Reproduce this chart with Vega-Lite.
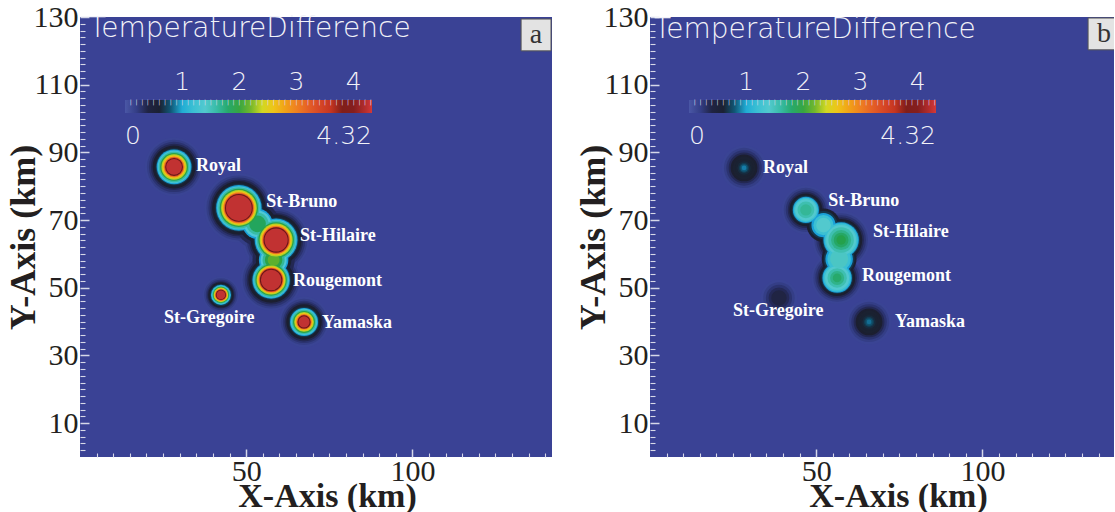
{
  "$schema": "https://vega.github.io/schema/vega-lite/v6.json",
  "background": "white",
  "padding": {"left": 5, "top": 2, "right": 0, "bottom": 0},
  "spacing": 98,
  "bounds": "flush",
  "config": {
    "view": {"stroke": null},
    "axis": {
      "domain": false,
      "grid": false,
      "tickColor": "#d6d8e8",
      "labelFont": "Liberation Serif",
      "labelFontSize": 30,
      "labelColor": "#231f20",
      "labelOverlap": false,
      "titleFont": "Liberation Serif",
      "titleFontWeight": "bold",
      "titleColor": "#231f20"
    },
    "axisX": {"labelPadding": 7, "titlePadding": -11, "titleFontSize": 34},
    "axisY": {"labelPadding": 11, "titleX": -46, "titleBaseline": "alphabetic", "titleFontSize": 36},
    "legend": {
      "orient": "none", "direction": "horizontal", "title": null, "padding": 0,
      "gradientLength": 247, "gradientThickness": 13, "gradientStrokeWidth": 0,
      "labelFont": "DejaVu Sans", "labelFontSize": 25, "labelFontWeight": 200, "labelColor": "#f2f2f8",
      "labelOverlap": false, "labelFlush": false, "legendY": 83
    }
  },
  "datasets": {
    "rings_a": [
      {"x": 28.3, "y": 85.7, "r": 8.8, "v": 0.13}, {"x": 28.3, "y": 85.7, "r": 8.1, "v": 0.2}, {"x": 28.3, "y": 85.7, "r": 7.5, "v": 0.28}, {"x": 28.3, "y": 85.7, "r": 6.9, "v": 0.36}, {"x": 28.3, "y": 85.7, "r": 6.4, "v": 0.45}, {"x": 28.3, "y": 85.7, "r": 5.9, "v": 0.58}, {"x": 28.3, "y": 85.7, "r": 5.5, "v": 0.72}, {"x": 28.3, "y": 85.7, "r": 5.2, "v": 0.9}, {"x": 28.3, "y": 85.7, "r": 4.89, "v": 1.25}, {"x": 28.3, "y": 85.7, "r": 4.55, "v": 1.6}, {"x": 28.3, "y": 85.7, "r": 4.16, "v": 1.95}, {"x": 28.3, "y": 85.7, "r": 3.77, "v": 2.35}, {"x": 28.3, "y": 85.7, "r": 3.43, "v": 2.6}, {"x": 28.3, "y": 85.7, "r": 3.12, "v": 2.95}, {"x": 28.3, "y": 85.7, "r": 2.86, "v": 3.35}, {"x": 28.3, "y": 85.7, "r": 2.65, "v": 3.85}, {"x": 28.3, "y": 85.7, "r": 2.35, "v": 4.25},
      {"x": 47.8, "y": 73.6, "r": 10.4, "v": 0.13}, {"x": 47.8, "y": 73.6, "r": 9.7, "v": 0.2}, {"x": 47.8, "y": 73.6, "r": 9.1, "v": 0.28}, {"x": 47.8, "y": 73.6, "r": 8.5, "v": 0.36}, {"x": 47.8, "y": 73.6, "r": 8.0, "v": 0.45}, {"x": 47.8, "y": 73.6, "r": 7.5, "v": 0.58}, {"x": 47.8, "y": 73.6, "r": 7.1, "v": 0.72}, {"x": 47.8, "y": 73.6, "r": 6.8, "v": 0.9}, {"x": 47.8, "y": 73.6, "r": 6.48, "v": 1.25}, {"x": 47.8, "y": 73.6, "r": 6.13, "v": 1.6}, {"x": 47.8, "y": 73.6, "r": 5.72, "v": 1.95}, {"x": 47.8, "y": 73.6, "r": 5.32, "v": 2.35}, {"x": 47.8, "y": 73.6, "r": 4.96, "v": 2.6}, {"x": 47.8, "y": 73.6, "r": 4.64, "v": 2.95}, {"x": 47.8, "y": 73.6, "r": 4.37, "v": 3.35}, {"x": 47.8, "y": 73.6, "r": 4.15, "v": 3.85}, {"x": 47.8, "y": 73.6, "r": 3.85, "v": 4.25},
      {"x": 59.0, "y": 64.1, "r": 10.0, "v": 0.13}, {"x": 59.0, "y": 64.1, "r": 9.3, "v": 0.2}, {"x": 59.0, "y": 64.1, "r": 8.7, "v": 0.28}, {"x": 59.0, "y": 64.1, "r": 8.1, "v": 0.36}, {"x": 59.0, "y": 64.1, "r": 7.6, "v": 0.45}, {"x": 59.0, "y": 64.1, "r": 7.1, "v": 0.58}, {"x": 59.0, "y": 64.1, "r": 6.7, "v": 0.72}, {"x": 59.0, "y": 64.1, "r": 6.4, "v": 0.9}, {"x": 59.0, "y": 64.1, "r": 6.08, "v": 1.25}, {"x": 59.0, "y": 64.1, "r": 5.73, "v": 1.6}, {"x": 59.0, "y": 64.1, "r": 5.32, "v": 1.95}, {"x": 59.0, "y": 64.1, "r": 4.92, "v": 2.35}, {"x": 59.0, "y": 64.1, "r": 4.56, "v": 2.6}, {"x": 59.0, "y": 64.1, "r": 4.24, "v": 2.95}, {"x": 59.0, "y": 64.1, "r": 3.97, "v": 3.35}, {"x": 59.0, "y": 64.1, "r": 3.75, "v": 3.85}, {"x": 59.0, "y": 64.1, "r": 3.45, "v": 4.25},
      {"x": 57.5, "y": 52.3, "r": 9.2, "v": 0.13}, {"x": 57.5, "y": 52.3, "r": 8.5, "v": 0.2}, {"x": 57.5, "y": 52.3, "r": 7.9, "v": 0.28}, {"x": 57.5, "y": 52.3, "r": 7.3, "v": 0.36}, {"x": 57.5, "y": 52.3, "r": 6.8, "v": 0.45}, {"x": 57.5, "y": 52.3, "r": 6.3, "v": 0.58}, {"x": 57.5, "y": 52.3, "r": 5.9, "v": 0.72}, {"x": 57.5, "y": 52.3, "r": 5.6, "v": 0.9}, {"x": 57.5, "y": 52.3, "r": 5.32, "v": 1.25}, {"x": 57.5, "y": 52.3, "r": 5.03, "v": 1.6}, {"x": 57.5, "y": 52.3, "r": 4.68, "v": 1.95}, {"x": 57.5, "y": 52.3, "r": 4.34, "v": 2.35}, {"x": 57.5, "y": 52.3, "r": 4.04, "v": 2.6}, {"x": 57.5, "y": 52.3, "r": 3.76, "v": 2.95}, {"x": 57.5, "y": 52.3, "r": 3.53, "v": 3.35}, {"x": 57.5, "y": 52.3, "r": 3.35, "v": 3.85}, {"x": 57.5, "y": 52.3, "r": 3.05, "v": 4.25},
      {"x": 42.4, "y": 47.9, "r": 5.5, "v": 0.13}, {"x": 42.4, "y": 47.9, "r": 5.0, "v": 0.2}, {"x": 42.4, "y": 47.9, "r": 4.5, "v": 0.28}, {"x": 42.4, "y": 47.9, "r": 4.1, "v": 0.36}, {"x": 42.4, "y": 47.9, "r": 3.8, "v": 0.45}, {"x": 42.4, "y": 47.9, "r": 3.5, "v": 0.58}, {"x": 42.4, "y": 47.9, "r": 3.25, "v": 0.72}, {"x": 42.4, "y": 47.9, "r": 3.0, "v": 0.9}, {"x": 42.4, "y": 47.9, "r": 2.82, "v": 1.25}, {"x": 42.4, "y": 47.9, "r": 2.62, "v": 1.6}, {"x": 42.4, "y": 47.9, "r": 2.4, "v": 1.95}, {"x": 42.4, "y": 47.9, "r": 2.17, "v": 2.35}, {"x": 42.4, "y": 47.9, "r": 1.98, "v": 2.6}, {"x": 42.4, "y": 47.9, "r": 1.8, "v": 2.95}, {"x": 42.4, "y": 47.9, "r": 1.65, "v": 3.35}, {"x": 42.4, "y": 47.9, "r": 1.52, "v": 3.85}, {"x": 42.4, "y": 47.9, "r": 1.3, "v": 4.25},
      {"x": 67.4, "y": 39.9, "r": 7.6, "v": 0.13}, {"x": 67.4, "y": 39.9, "r": 6.9, "v": 0.2}, {"x": 67.4, "y": 39.9, "r": 6.3, "v": 0.28}, {"x": 67.4, "y": 39.9, "r": 5.8, "v": 0.36}, {"x": 67.4, "y": 39.9, "r": 5.3, "v": 0.45}, {"x": 67.4, "y": 39.9, "r": 4.9, "v": 0.58}, {"x": 67.4, "y": 39.9, "r": 4.5, "v": 0.72}, {"x": 67.4, "y": 39.9, "r": 4.2, "v": 0.9}, {"x": 67.4, "y": 39.9, "r": 3.92, "v": 1.25}, {"x": 67.4, "y": 39.9, "r": 3.63, "v": 1.6}, {"x": 67.4, "y": 39.9, "r": 3.28, "v": 1.95}, {"x": 67.4, "y": 39.9, "r": 2.94, "v": 2.35}, {"x": 67.4, "y": 39.9, "r": 2.64, "v": 2.6}, {"x": 67.4, "y": 39.9, "r": 2.36, "v": 2.95}, {"x": 67.4, "y": 39.9, "r": 2.13, "v": 3.35}, {"x": 67.4, "y": 39.9, "r": 1.95, "v": 3.85}, {"x": 67.4, "y": 39.9, "r": 1.65, "v": 4.25},
      {"x": 53.4, "y": 68.9, "r": 7.5, "v": 0.2}, {"x": 53.4, "y": 68.9, "r": 6.5, "v": 0.36}, {"x": 53.4, "y": 68.9, "r": 5.5, "v": 0.58}, {"x": 53.4, "y": 68.9, "r": 4.5, "v": 0.9}, {"x": 53.4, "y": 68.9, "r": 4.0, "v": 1.3}, {"x": 53.4, "y": 68.9, "r": 3.3, "v": 1.6}, {"x": 53.4, "y": 68.9, "r": 2.5, "v": 1.85},
      {"x": 58.25, "y": 58.2, "r": 7.3, "v": 0.2}, {"x": 58.25, "y": 58.2, "r": 6.3, "v": 0.36}, {"x": 58.25, "y": 58.2, "r": 5.3, "v": 0.58}, {"x": 58.25, "y": 58.2, "r": 4.4, "v": 0.9}, {"x": 58.25, "y": 58.2, "r": 3.9, "v": 1.3}, {"x": 58.25, "y": 58.2, "r": 3.3, "v": 1.65}, {"x": 58.25, "y": 58.2, "r": 2.6, "v": 1.95}, {"x": 58.25, "y": 58.2, "r": 1.8, "v": 2.15}
    ],
    "rings_b": [
      {"x": 28.3, "y": 85.4, "r": 6.8, "v": 0.13}, {"x": 28.3, "y": 85.4, "r": 6.0, "v": 0.2}, {"x": 28.3, "y": 85.4, "r": 5.3, "v": 0.28}, {"x": 28.3, "y": 85.4, "r": 4.6, "v": 0.36}, {"x": 28.3, "y": 85.4, "r": 4.0, "v": 0.45}, {"x": 28.3, "y": 85.4, "r": 3.4, "v": 0.55}, {"x": 28.3, "y": 85.4, "r": 2.7, "v": 0.62}, {"x": 28.3, "y": 85.4, "r": 2.0, "v": 0.68}, {"x": 28.3, "y": 85.4, "r": 1.5, "v": 0.74}, {"x": 28.3, "y": 85.4, "r": 1.1, "v": 0.8}, {"x": 28.3, "y": 85.4, "r": 0.7, "v": 0.85},
      {"x": 46.9, "y": 73.0, "r": 7.3, "v": 0.13}, {"x": 46.9, "y": 73.0, "r": 6.6, "v": 0.2}, {"x": 46.9, "y": 73.0, "r": 6.0, "v": 0.28}, {"x": 46.9, "y": 73.0, "r": 5.4, "v": 0.36}, {"x": 46.9, "y": 73.0, "r": 4.9, "v": 0.45}, {"x": 46.9, "y": 73.0, "r": 4.5, "v": 0.58}, {"x": 46.9, "y": 73.0, "r": 4.2, "v": 0.72}, {"x": 46.9, "y": 73.0, "r": 3.9, "v": 0.9}, {"x": 46.9, "y": 73.0, "r": 3.6, "v": 1.2}, {"x": 46.9, "y": 73.0, "r": 3.2, "v": 1.4}, {"x": 46.9, "y": 73.0, "r": 2.5, "v": 1.55}, {"x": 46.9, "y": 73.0, "r": 1.7, "v": 1.65},
      {"x": 57.5, "y": 64.1, "r": 8.7, "v": 0.13}, {"x": 57.5, "y": 64.1, "r": 8.0, "v": 0.2}, {"x": 57.5, "y": 64.1, "r": 7.4, "v": 0.28}, {"x": 57.5, "y": 64.1, "r": 6.8, "v": 0.36}, {"x": 57.5, "y": 64.1, "r": 6.3, "v": 0.45}, {"x": 57.5, "y": 64.1, "r": 5.9, "v": 0.58}, {"x": 57.5, "y": 64.1, "r": 5.6, "v": 0.72}, {"x": 57.5, "y": 64.1, "r": 5.3, "v": 0.9}, {"x": 57.5, "y": 64.1, "r": 5.0, "v": 1.2}, {"x": 57.5, "y": 64.1, "r": 4.5, "v": 1.4}, {"x": 57.5, "y": 64.1, "r": 3.8, "v": 1.55}, {"x": 57.5, "y": 64.1, "r": 3.0, "v": 1.7}, {"x": 57.5, "y": 64.1, "r": 2.2, "v": 1.82}, {"x": 57.5, "y": 64.1, "r": 1.4, "v": 1.92},
      {"x": 56.3, "y": 52.9, "r": 7.8, "v": 0.13}, {"x": 56.3, "y": 52.9, "r": 7.1, "v": 0.2}, {"x": 56.3, "y": 52.9, "r": 6.5, "v": 0.28}, {"x": 56.3, "y": 52.9, "r": 5.9, "v": 0.36}, {"x": 56.3, "y": 52.9, "r": 5.4, "v": 0.45}, {"x": 56.3, "y": 52.9, "r": 5.0, "v": 0.58}, {"x": 56.3, "y": 52.9, "r": 4.7, "v": 0.72}, {"x": 56.3, "y": 52.9, "r": 4.4, "v": 0.9}, {"x": 56.3, "y": 52.9, "r": 4.1, "v": 1.2}, {"x": 56.3, "y": 52.9, "r": 3.6, "v": 1.4}, {"x": 56.3, "y": 52.9, "r": 2.9, "v": 1.55}, {"x": 56.3, "y": 52.9, "r": 2.1, "v": 1.7}, {"x": 56.3, "y": 52.9, "r": 1.3, "v": 1.8},
      {"x": 38.8, "y": 47.0, "r": 5.5, "v": 0.13}, {"x": 38.8, "y": 47.0, "r": 4.7, "v": 0.2}, {"x": 38.8, "y": 47.0, "r": 3.9, "v": 0.28}, {"x": 38.8, "y": 47.0, "r": 3.1, "v": 0.35}, {"x": 38.8, "y": 47.0, "r": 2.3, "v": 0.4},
      {"x": 65.9, "y": 39.9, "r": 6.8, "v": 0.13}, {"x": 65.9, "y": 39.9, "r": 6.0, "v": 0.2}, {"x": 65.9, "y": 39.9, "r": 5.3, "v": 0.28}, {"x": 65.9, "y": 39.9, "r": 4.6, "v": 0.36}, {"x": 65.9, "y": 39.9, "r": 4.0, "v": 0.45}, {"x": 65.9, "y": 39.9, "r": 3.4, "v": 0.55}, {"x": 65.9, "y": 39.9, "r": 2.7, "v": 0.62}, {"x": 65.9, "y": 39.9, "r": 2.0, "v": 0.68}, {"x": 65.9, "y": 39.9, "r": 1.5, "v": 0.74}, {"x": 65.9, "y": 39.9, "r": 1.1, "v": 0.79}, {"x": 65.9, "y": 39.9, "r": 0.7, "v": 0.83},
      {"x": 52.2, "y": 68.5, "r": 5.0, "v": 0.45}, {"x": 52.2, "y": 68.5, "r": 4.2, "v": 0.72}, {"x": 52.2, "y": 68.5, "r": 3.6, "v": 0.9}, {"x": 52.2, "y": 68.5, "r": 3.0, "v": 1.2}, {"x": 52.2, "y": 68.5, "r": 2.2, "v": 1.4},
      {"x": 56.9, "y": 58.5, "r": 5.2, "v": 0.45}, {"x": 56.9, "y": 58.5, "r": 4.6, "v": 0.72}, {"x": 56.9, "y": 58.5, "r": 4.1, "v": 0.9}, {"x": 56.9, "y": 58.5, "r": 3.5, "v": 1.2}, {"x": 56.9, "y": 58.5, "r": 2.7, "v": 1.45}
    ],
    "scale_ends": [{"x": 1, "y": 1, "t": 0}, {"x": 1, "y": 1, "t": 4.32}],
    "names_a": [
      {"x": 34.9, "y": 86.0, "text": "Royal"},
      {"x": 56.0, "y": 75.3, "text": "St-Bruno"},
      {"x": 66.2, "y": 65.3, "text": "St-Hilaire"},
      {"x": 64.1, "y": 52.0, "text": "Rougemont"},
      {"x": 25.3, "y": 41.1, "text": "St-Gregoire"},
      {"x": 72.8, "y": 39.6, "text": "Yamaska"}
    ],
    "names_b": [
      {"x": 34.0, "y": 85.4, "text": "Royal"},
      {"x": 53.6, "y": 75.6, "text": "St-Bruno"},
      {"x": 67.1, "y": 66.5, "text": "St-Hilaire"},
      {"x": 63.8, "y": 53.5, "text": "Rougemont"},
      {"x": 25.0, "y": 43.1, "text": "St-Gregoire"},
      {"x": 73.7, "y": 39.9, "text": "Yamaska"}
    ],
    "heading_a": [{"x": 2.7, "y": 124.2, "text": "TemperatureDifference"}],
    "heading_b": [{"x": 1.2, "y": 123.9, "text": "TemperatureDifference"}],
    "box_a": [{"x": 132.7, "x2": 141.7, "y": 129.4, "y2": 120.0}],
    "box_b": [{"x": 131.8, "x2": 141.5, "y": 129.7, "y2": 120.3}],
    "letter_a": [{"x": 137.2, "y": 124.7, "text": "a"}],
    "letter_b": [{"x": 136.6, "y": 125.0, "text": "b"}]
  },
  "resolve": {
    "scale": {"x": "independent", "y": "independent", "color": "independent", "size": "independent"},
    "legend": {"color": "independent"}
  },
  "hconcat": [
    {
      "width": 472,
      "height": 440,
      "view": {"fill": "#3a4295", "stroke": null},
      "resolve": {"scale": {"color": "independent"}, "legend": {"color": "independent"}},
      "encoding": {
        "x": {
          "field": "x", "type": "quantitative",
          "scale": {"domain": [0, 142], "nice": false, "zero": false},
          "axis": {
            "title": "X-Axis (km)",
            "values": [5, 10, 15, 20, 25, 30, 35, 40, 45, 50, 55, 60, 65, 70, 75, 80, 85, 90, 95, 100, 105, 110, 115, 120, 125, 130, 135, 140],
            "labelExpr": "datum.value % 50 === 0 ? datum.label : ''",
            "tickSize": {"condition": {"test": "datum.value % 50 === 0", "value": -8}, "value": -4},
            "tickWidth": {"condition": {"test": "datum.value % 50 === 0", "value": 1.5}, "value": 1.1},
            "titleX": 247
          }
        },
        "y": {
          "field": "y", "type": "quantitative",
          "scale": {"domain": [0, 130], "nice": false, "zero": false},
          "axis": {
            "title": "Y-Axis (km)",
            "values": [2, 4, 6, 8, 10, 12, 14, 16, 18, 20, 22, 24, 26, 28, 30, 32, 34, 36, 38, 40, 42, 44, 46, 48, 50, 52, 54, 56, 58, 60, 62, 64, 66, 68, 70, 72, 74, 76, 78, 80, 82, 84, 86, 88, 90, 92, 94, 96, 98, 100, 102, 104, 106, 108, 110, 112, 114, 116, 118, 120, 122, 124, 126, 128, 130],
            "labelExpr": "(datum.value - 10) % 20 === 0 ? datum.label : ''",
            "tickSize": {"condition": {"test": "(datum.value - 10) % 20 === 0", "value": -9}, "value": -5},
            "tickWidth": {"condition": {"test": "(datum.value - 10) % 20 === 0", "value": 1.5}, "value": 1.1}
          }
        }
      },
      "layer": [
        {
          "data": {"name": "rings_a"},
          "mark": {"type": "point", "filled": true, "opacity": 1, "strokeWidth": 0, "clip": true},
          "encoding": {
            "size": {"field": "r", "type": "quantitative", "scale": {"type": "pow", "exponent": 2, "domain": [0, 20], "range": [0, 17956]}, "legend": null},
            "color": {
              "field": "v", "type": "quantitative",
              "scale": {
                "domain": [0, 0.13, 0.2, 0.28, 0.36, 0.45, 0.65, 0.78, 0.9, 1.1, 1.35, 1.6, 1.9, 2.15, 2.45, 2.7, 3.0, 3.3, 3.65, 3.85, 4.05, 4.32],
                "range": ["#4a57a6", "#3a4494", "#343e86", "#2b3370", "#232852", "#1c1f30", "#1a2232", "#0e4a64", "#1aa0d8", "#28b8d0", "#58ccd8", "#38bca6", "#1fa04e", "#5cb02e", "#e8e020", "#f2b212", "#ef8020", "#e05028", "#c03020", "#6a1818", "#8c2020", "#d43838"],
                "interpolate": "rgb"
              },
              "legend": {"legendX": 45, "values": [1, 2, 3, 4], "format": "d", "labelOffset": -43}
            },
            "order": {"field": "v", "type": "quantitative", "sort": "ascending"}
          }
        },
        {
          "data": {"name": "scale_ends"},
          "mark": {"type": "point", "filled": true, "opacity": 0},
          "encoding": {
            "color": {
              "field": "t", "type": "quantitative",
              "scale": {
                "domain": [0, 0.13, 0.2, 0.28, 0.36, 0.45, 0.65, 0.78, 0.9, 1.1, 1.35, 1.6, 1.9, 2.15, 2.45, 2.7, 3.0, 3.3, 3.65, 3.85, 4.05, 4.32],
                "range": ["#4a57a6", "#3a4494", "#343e86", "#2b3370", "#232852", "#1c1f30", "#1a2232", "#0e4a64", "#1aa0d8", "#28b8d0", "#58ccd8", "#38bca6", "#1fa04e", "#5cb02e", "#e8e020", "#f2b212", "#ef8020", "#e05028", "#c03020", "#6a1818", "#8c2020", "#d43838"],
                "interpolate": "rgb"
              },
              "legend": {"legendX": 45, "values": [0], "format": "d", "labelOffset": 11, "labelAlign": "center"}
            }
          }
        },
        {
          "data": {"name": "scale_ends"},
          "mark": {"type": "point", "filled": true, "opacity": 0},
          "encoding": {
            "color": {
              "field": "t", "type": "quantitative",
              "scale": {
                "domain": [0, 0.13, 0.2, 0.28, 0.36, 0.45, 0.65, 0.78, 0.9, 1.1, 1.35, 1.6, 1.9, 2.15, 2.45, 2.7, 3.0, 3.3, 3.65, 3.85, 4.05, 4.32],
                "range": ["#4a57a6", "#3a4494", "#343e86", "#2b3370", "#232852", "#1c1f30", "#1a2232", "#0e4a64", "#1aa0d8", "#28b8d0", "#58ccd8", "#38bca6", "#1fa04e", "#5cb02e", "#e8e020", "#f2b212", "#ef8020", "#e05028", "#c03020", "#6a1818", "#8c2020", "#d43838"],
                "interpolate": "rgb"
              },
              "legend": {"legendX": 45, "values": [4.32], "format": ".2f", "labelOffset": 11, "labelAlign": "right"}
            }
          }
        },
        {
          "data": {"name": "scale_ends"},
          "mark": {"type": "point", "filled": true, "opacity": 0},
          "encoding": {
            "color": {
              "field": "t", "type": "quantitative",
              "scale": {
                "domain": [0, 0.13, 0.2, 0.28, 0.36, 0.45, 0.65, 0.78, 0.9, 1.1, 1.35, 1.6, 1.9, 2.15, 2.45, 2.7, 3.0, 3.3, 3.65, 3.85, 4.05, 4.32],
                "range": ["#4a57a6", "#3a4494", "#343e86", "#2b3370", "#232852", "#1c1f30", "#1a2232", "#0e4a64", "#1aa0d8", "#28b8d0", "#58ccd8", "#38bca6", "#1fa04e", "#5cb02e", "#e8e020", "#f2b212", "#ef8020", "#e05028", "#c03020", "#6a1818", "#8c2020", "#d43838"],
                "interpolate": "rgb"
              },
              "legend": {
                "legendX": 45,
                "values": [0.1, 0.2, 0.3, 0.4, 0.5, 0.6, 0.7, 0.8, 0.9, 1, 1.1, 1.2, 1.3, 1.4, 1.5, 1.6, 1.7, 1.8, 1.9, 2, 2.1, 2.2, 2.3, 2.4, 2.5, 2.6, 2.7, 2.8, 2.9, 3, 3.1, 3.2, 3.3, 3.4, 3.5, 3.6, 3.7, 3.8, 3.9, 4, 4.1, 4.2, 4.3],
                "labelExpr": "'|'",
                "labelFontSize": 6, "labelFontWeight": "normal", "labelColor": "#dcdcec",
                "labelBaseline": "bottom", "labelOffset": -14, "labelAlign": "center"
              }
            }
          }
        },
        {
          "data": {"name": "heading_a"},
          "mark": {"type": "text", "align": "left", "baseline": "alphabetic", "font": "DejaVu Sans", "fontSize": 28, "fontWeight": 200, "fill": "#f2f2f8"},
          "encoding": {"text": {"field": "text"}}
        },
        {
          "data": {"name": "names_a"},
          "mark": {"type": "text", "align": "left", "baseline": "middle", "font": "Liberation Serif", "fontSize": 18, "fontWeight": "bold", "fill": "#ffffff"},
          "encoding": {"text": {"field": "text"}}
        },
        {
          "data": {"name": "box_a"},
          "mark": {"type": "rect", "fill": "#e3e3e3", "stroke": "#555555", "strokeWidth": 1, "clip": true},
          "encoding": {"x2": {"field": "x2"}, "y2": {"field": "y2"}}
        },
        {
          "data": {"name": "letter_a"},
          "mark": {"type": "text", "align": "center", "baseline": "middle", "font": "Liberation Serif", "fontSize": 28, "fill": "#333333"},
          "encoding": {"text": {"field": "text"}}
        }
      ]
    },
    {
      "width": 464,
      "height": 440,
      "view": {"fill": "#3a4295", "stroke": null},
      "resolve": {"scale": {"color": "independent"}, "legend": {"color": "independent"}},
      "encoding": {
        "x": {
          "field": "x", "type": "quantitative",
          "scale": {"domain": [0, 139.6], "nice": false, "zero": false},
          "axis": {
            "title": "X-Axis (km)",
            "values": [5, 10, 15, 20, 25, 30, 35, 40, 45, 50, 55, 60, 65, 70, 75, 80, 85, 90, 95, 100, 105, 110, 115, 120, 125, 130, 135],
            "labelExpr": "datum.value % 50 === 0 ? datum.label : ''",
            "tickSize": {"condition": {"test": "datum.value % 50 === 0", "value": -8}, "value": -4},
            "tickWidth": {"condition": {"test": "datum.value % 50 === 0", "value": 1.5}, "value": 1.1},
            "titleX": 248
          }
        },
        "y": {
          "field": "y", "type": "quantitative",
          "scale": {"domain": [0, 130], "nice": false, "zero": false},
          "axis": {
            "title": "Y-Axis (km)",
            "values": [2, 4, 6, 8, 10, 12, 14, 16, 18, 20, 22, 24, 26, 28, 30, 32, 34, 36, 38, 40, 42, 44, 46, 48, 50, 52, 54, 56, 58, 60, 62, 64, 66, 68, 70, 72, 74, 76, 78, 80, 82, 84, 86, 88, 90, 92, 94, 96, 98, 100, 102, 104, 106, 108, 110, 112, 114, 116, 118, 120, 122, 124, 126, 128, 130],
            "labelExpr": "(datum.value - 10) % 20 === 0 ? datum.label : ''",
            "tickSize": {"condition": {"test": "(datum.value - 10) % 20 === 0", "value": -9}, "value": -5},
            "tickWidth": {"condition": {"test": "(datum.value - 10) % 20 === 0", "value": 1.5}, "value": 1.1}
          }
        }
      },
      "layer": [
        {
          "data": {"name": "rings_b"},
          "mark": {"type": "point", "filled": true, "opacity": 1, "strokeWidth": 0, "clip": true},
          "encoding": {
            "size": {"field": "r", "type": "quantitative", "scale": {"type": "pow", "exponent": 2, "domain": [0, 20], "range": [0, 17956]}, "legend": null},
            "color": {
              "field": "v", "type": "quantitative",
              "scale": {
                "domain": [0, 0.13, 0.2, 0.28, 0.36, 0.45, 0.65, 0.78, 0.9, 1.1, 1.35, 1.6, 1.9, 2.15, 2.45, 2.7, 3.0, 3.3, 3.65, 3.85, 4.05, 4.32],
                "range": ["#4a57a6", "#3a4494", "#343e86", "#2b3370", "#232852", "#1c1f30", "#1a2232", "#0e4a64", "#1aa0d8", "#28b8d0", "#58ccd8", "#38bca6", "#1fa04e", "#5cb02e", "#e8e020", "#f2b212", "#ef8020", "#e05028", "#c03020", "#6a1818", "#8c2020", "#d43838"],
                "interpolate": "rgb"
              },
              "legend": {"legendX": 39, "values": [1, 2, 3, 4], "format": "d", "labelOffset": -43}
            },
            "order": {"field": "v", "type": "quantitative", "sort": "ascending"}
          }
        },
        {
          "data": {"name": "scale_ends"},
          "mark": {"type": "point", "filled": true, "opacity": 0},
          "encoding": {
            "color": {
              "field": "t", "type": "quantitative",
              "scale": {
                "domain": [0, 0.13, 0.2, 0.28, 0.36, 0.45, 0.65, 0.78, 0.9, 1.1, 1.35, 1.6, 1.9, 2.15, 2.45, 2.7, 3.0, 3.3, 3.65, 3.85, 4.05, 4.32],
                "range": ["#4a57a6", "#3a4494", "#343e86", "#2b3370", "#232852", "#1c1f30", "#1a2232", "#0e4a64", "#1aa0d8", "#28b8d0", "#58ccd8", "#38bca6", "#1fa04e", "#5cb02e", "#e8e020", "#f2b212", "#ef8020", "#e05028", "#c03020", "#6a1818", "#8c2020", "#d43838"],
                "interpolate": "rgb"
              },
              "legend": {"legendX": 39, "values": [0], "format": "d", "labelOffset": 11, "labelAlign": "center"}
            }
          }
        },
        {
          "data": {"name": "scale_ends"},
          "mark": {"type": "point", "filled": true, "opacity": 0},
          "encoding": {
            "color": {
              "field": "t", "type": "quantitative",
              "scale": {
                "domain": [0, 0.13, 0.2, 0.28, 0.36, 0.45, 0.65, 0.78, 0.9, 1.1, 1.35, 1.6, 1.9, 2.15, 2.45, 2.7, 3.0, 3.3, 3.65, 3.85, 4.05, 4.32],
                "range": ["#4a57a6", "#3a4494", "#343e86", "#2b3370", "#232852", "#1c1f30", "#1a2232", "#0e4a64", "#1aa0d8", "#28b8d0", "#58ccd8", "#38bca6", "#1fa04e", "#5cb02e", "#e8e020", "#f2b212", "#ef8020", "#e05028", "#c03020", "#6a1818", "#8c2020", "#d43838"],
                "interpolate": "rgb"
              },
              "legend": {"legendX": 39, "values": [4.32], "format": ".2f", "labelOffset": 11, "labelAlign": "right"}
            }
          }
        },
        {
          "data": {"name": "scale_ends"},
          "mark": {"type": "point", "filled": true, "opacity": 0},
          "encoding": {
            "color": {
              "field": "t", "type": "quantitative",
              "scale": {
                "domain": [0, 0.13, 0.2, 0.28, 0.36, 0.45, 0.65, 0.78, 0.9, 1.1, 1.35, 1.6, 1.9, 2.15, 2.45, 2.7, 3.0, 3.3, 3.65, 3.85, 4.05, 4.32],
                "range": ["#4a57a6", "#3a4494", "#343e86", "#2b3370", "#232852", "#1c1f30", "#1a2232", "#0e4a64", "#1aa0d8", "#28b8d0", "#58ccd8", "#38bca6", "#1fa04e", "#5cb02e", "#e8e020", "#f2b212", "#ef8020", "#e05028", "#c03020", "#6a1818", "#8c2020", "#d43838"],
                "interpolate": "rgb"
              },
              "legend": {
                "legendX": 39,
                "values": [0.1, 0.2, 0.3, 0.4, 0.5, 0.6, 0.7, 0.8, 0.9, 1, 1.1, 1.2, 1.3, 1.4, 1.5, 1.6, 1.7, 1.8, 1.9, 2, 2.1, 2.2, 2.3, 2.4, 2.5, 2.6, 2.7, 2.8, 2.9, 3, 3.1, 3.2, 3.3, 3.4, 3.5, 3.6, 3.7, 3.8, 3.9, 4, 4.1, 4.2, 4.3],
                "labelExpr": "'|'",
                "labelFontSize": 6, "labelFontWeight": "normal", "labelColor": "#dcdcec",
                "labelBaseline": "bottom", "labelOffset": -14, "labelAlign": "center"
              }
            }
          }
        },
        {
          "data": {"name": "heading_b"},
          "mark": {"type": "text", "align": "left", "baseline": "alphabetic", "font": "DejaVu Sans", "fontSize": 28, "fontWeight": 200, "fill": "#f2f2f8"},
          "encoding": {"text": {"field": "text"}}
        },
        {
          "data": {"name": "names_b"},
          "mark": {"type": "text", "align": "left", "baseline": "middle", "font": "Liberation Serif", "fontSize": 18, "fontWeight": "bold", "fill": "#ffffff"},
          "encoding": {"text": {"field": "text"}}
        },
        {
          "data": {"name": "box_b"},
          "mark": {"type": "rect", "fill": "#e3e3e3", "stroke": "#555555", "strokeWidth": 1, "clip": true},
          "encoding": {"x2": {"field": "x2"}, "y2": {"field": "y2"}}
        },
        {
          "data": {"name": "letter_b"},
          "mark": {"type": "text", "align": "center", "baseline": "middle", "font": "Liberation Serif", "fontSize": 28, "fill": "#333333"},
          "encoding": {"text": {"field": "text"}}
        }
      ]
    }
  ]
}
